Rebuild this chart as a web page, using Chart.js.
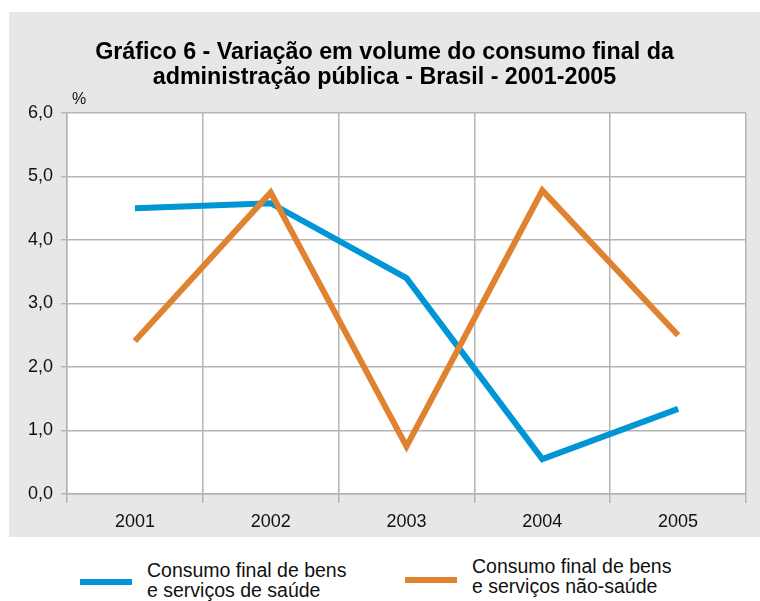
<!DOCTYPE html>
<html>
<head>
<meta charset="utf-8">
<script src="https://cdn.jsdelivr.net/npm/chart.js@4"></script>
<style>
  body { margin:0; background:#fff; width:760px; height:601px; position:relative; overflow:hidden; font-family:"Liberation Sans", Arial, sans-serif; }
  #panel { position:absolute; left:9px; top:12px; width:751px; height:525px; background:#e6e7e8; }
  #chart { position:absolute; left:0; top:0; }
  #title { position:absolute; left:0; top:27px; width:751px; text-align:center; font-weight:bold; font-size:23.3px; line-height:25px; color:#000; }
  #unit { position:absolute; left:63px; top:78px; font-size:16px; color:#111; }
  .leg { position:absolute; font-size:19.5px; line-height:19.5px; color:#111; }
  .sw { position:absolute; height:6px; width:52px; }
</style>
</head>
<body>
<div id="panel">
  <canvas id="chart" width="751" height="525"></canvas>
  <div id="title">Gráfico 6 - Variação em volume do consumo final da<br>administração pública - Brasil - 2001-2005</div>
  <div id="unit">%</div>
</div>
<div class="sw" style="left:80px;top:579px;background:#0096d6"></div>
<div class="leg" style="left:147px;top:561px">Consumo final de bens<br>e serviços de saúde</div>
<div class="sw" style="left:405px;top:577px;background:#e08330"></div>
<div class="leg" style="left:472px;top:557px">Consumo final de bens<br>e serviços não-saúde</div>
<script>
// dados
var anos = ['2001','2002','2003','2004','2005'];
var saude = [4.50, 4.58, 3.40, 0.55, 1.34];
var naoSaude = [2.41, 4.75, 0.75, 4.78, 2.50];
var yTicks = [0, 1, 2, 3, 4, 5, 6];

var gridCor = '#b4b4b4';

var fundoBranco = {
  id:'fundoBranco',
  beforeDraw:function(chart){
    var a = chart.chartArea, ctx = chart.ctx;
    ctx.save();
    ctx.fillStyle = '#fff';
    ctx.fillRect(a.left, a.top, a.right - a.left, a.bottom - a.top);
    ctx.restore();
  }
};

var ctx = document.getElementById('chart');
new Chart(ctx, {
  type:'line',
  data:{
    labels:anos,
    datasets:[
      { label:'Consumo final de bens e serviços de saúde', data:saude, borderColor:'#0096d6', borderWidth:6,
        pointRadius:0, tension:0, borderCapStyle:'butt', borderJoinStyle:'miter', order:1 },
      { label:'Consumo final de bens e serviços não-saúde', data:naoSaude, borderColor:'#e08330', borderWidth:6,
        pointRadius:0, tension:0, borderCapStyle:'butt', borderJoinStyle:'miter', order:0 }
    ]
  },
  options:{
    responsive:false,
    animation:false,
    layout:{ padding:{ top:101, right:14, left:0, bottom:0 } },
    plugins:{ legend:{ display:false }, title:{ display:false }, tooltip:{ enabled:false } },
    scales:{
      x:{
        offset:true,
        grid:{ offset:true, color:gridCor, lineWidth:1.5, tickLength:9 },
        border:{ color:gridCor, width:1.5 },
        ticks:{ color:'#111', font:{ family:'"Liberation Sans", Arial', size:18 }, padding:8, maxRotation:0 },
        afterFit:function(s){ s.height = 43; }
      },
      y:{
        min:0, max:6,
        afterBuildTicks:function(s){ s.ticks = yTicks.map(function(v){ return { value:v }; }); },
        grid:{ color:gridCor, lineWidth:1.5, tickLength:6 },
        border:{ color:gridCor, width:1.5 },
        ticks:{ color:'#111', font:{ family:'"Liberation Sans", Arial', size:18 }, padding:8,
          callback:function(v){ return v.toFixed(1).replace('.', ','); } },
        afterFit:function(s){ s.width = 58; }
      }
    }
  },
  plugins:[fundoBranco]
});
</script>
</body>
</html>
